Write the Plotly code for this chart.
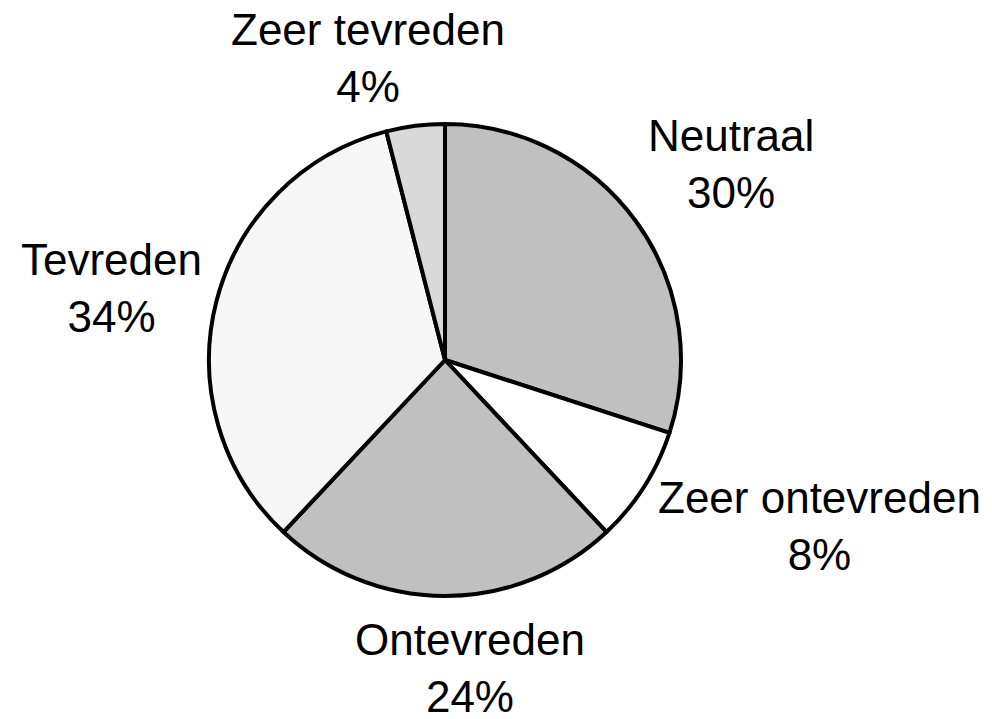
import plotly.graph_objects as go

labels = ["Neutraal", "Zeer ontevreden", "Ontevreden", "Tevreden", "Zeer tevreden"]
values = [30, 8, 24, 34, 4]
colors = ["#c0c0c0", "#ffffff", "#c0c0c0", "#f7f7f7", "#d9d9d9"]

# label positions in screen pixels (x center, y center from top)
label_pos = [(731, 164), (819, 526), (470, 668), (111, 288), (368, 58)]

W, H = 992, 719
OFF = 8  # page body margin offset of the figure
cx, cy, r = 445 - OFF, 360 - OFF, 236

fig = go.Figure(go.Pie(
    labels=labels,
    values=values,
    sort=False,
    direction="clockwise",
    rotation=0,
    marker=dict(colors=colors, line=dict(color="black", width=4)),
    textinfo="none",
    hoverinfo="label+percent",
    showlegend=False,
    domain=dict(x=[(cx - r) / W, (cx + r) / W],
                y=[(H - cy - r) / H, (H - cy + r) / H]),
))

total = sum(values)
for lab, v, (px, py) in zip(labels, values, label_pos):
    fig.add_annotation(
        x=(px - OFF) / W, y=1 - (py - OFF) / H, xref="paper", yref="paper",
        text=f"{lab}<br>{round(100 * v / total)}%",
        showarrow=False, xanchor="center", yanchor="middle",
        font=dict(family="Liberation Sans, Arial, sans-serif", size=44, color="black"),
        align="center",
    )

fig.update_layout(
    width=W, height=H,
    margin=dict(l=0, r=0, t=0, b=0),
    paper_bgcolor="white", plot_bgcolor="white",
)

fig.write_html("out.html")
